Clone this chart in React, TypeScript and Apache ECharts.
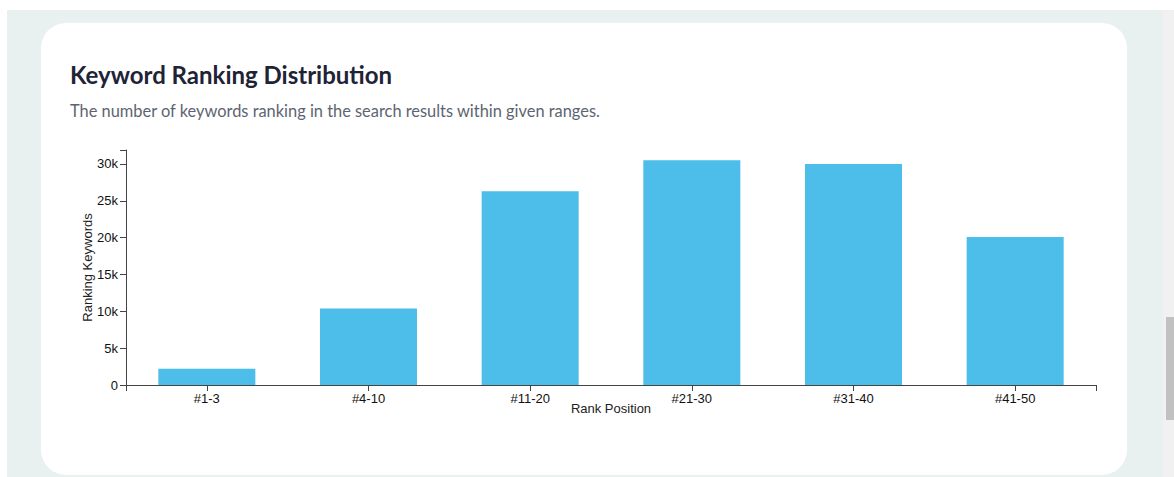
import React, { useEffect, useRef } from "react";
import * as echarts from "echarts";

const categories = ["#1-3", "#4-10", "#11-20", "#21-30", "#31-40", "#41-50"];
const keywordCounts = [2200, 10400, 26300, 30500, 30000, 20100];
const yMax = 31900;
const yInterval = 5000;

const titleText = "Keyword Ranking Distribution";
const subtitleText = "The number of keywords ranking in the search results within given ranges.";
const xAxisName = "Rank Position";
const yAxisName = "Ranking Keywords";

const axisFont = "'Liberation Sans', Arial, sans-serif";

export default function App() {
  const ref = useRef<HTMLDivElement>(null);

  useEffect(() => {
    if (!ref.current) return;
    const chart = echarts.init(ref.current, undefined, { renderer: "svg" });
    chart.setOption({
      animation: false,
      backgroundColor: "#ffffff",
      graphic: [
        {
          type: "rect",
          z: -10,
          silent: true,
          shape: { x: 7, y: 10, width: 1156, height: 470 },
          style: { fill: "#e8f0f0" },
        },
        {
          type: "rect",
          z: -10,
          silent: true,
          shape: { x: 1163, y: 10, width: 11, height: 470 },
          style: { fill: "#f1f1f1" },
        },
        {
          type: "rect",
          z: -9,
          silent: true,
          shape: { x: 1166, y: 317, width: 8, height: 103 },
          style: { fill: "#c1c1c1" },
        },
        {
          type: "rect",
          z: -9,
          silent: true,
          shape: { x: 41, y: 23, width: 1086, height: 452, r: 25 },
          style: { fill: "#ffffff" },
        },
        {
          type: "text",
          left: 70,
          top: 62,
          style: {
            text: titleText,
            font: "bold 24px Lato, sans-serif",
            fill: "#1f2336",
          },
        },
        {
          type: "text",
          left: 70,
          top: 102,
          style: {
            text: subtitleText,
            font: "16.4px Lato, sans-serif",
            fill: "#5d6471",
          },
        },
      ],
      grid: { left: 126, right: 78, top: 150, bottom: 92, containLabel: false },
      xAxis: [
        {
          type: "category",
          data: categories,
          boundaryGap: true,
          name: xAxisName,
          nameLocation: "middle",
          nameGap: 17,
          nameMoveOverlap: false,
          nameTextStyle: { fontFamily: axisFont, fontSize: 13, color: "#222" },
          axisLine: { show: true, lineStyle: { color: "#444", width: 1 } },
          axisTick: { show: true, alignWithLabel: true, length: 6, lineStyle: { color: "#444" } },
          axisLabel: { fontFamily: axisFont, fontSize: 13, color: "#111", margin: 7 },
          splitLine: { show: false },
        },
        {
          type: "value",
          min: 0,
          max: categories.length,
          interval: categories.length,
          position: "bottom",
          axisLine: { show: false },
          axisTick: { show: true, length: 6, lineStyle: { color: "#444" } },
          axisLabel: { show: false },
          splitLine: { show: false },
        },
      ],
      yAxis: {
        type: "value",
        min: 0,
        max: yMax,
        interval: yInterval,
        name: yAxisName,
        nameLocation: "middle",
        nameGap: 32,
        nameMoveOverlap: false,
        nameRotate: 90,
        nameTextStyle: { fontFamily: axisFont, fontSize: 13, color: "#222" },
        axisLine: { show: true, lineStyle: { color: "#444", width: 1 } },
        axisTick: { show: true, length: 6, lineStyle: { color: "#444" } },
        axisLabel: {
          fontFamily: axisFont,
          fontSize: 13,
          color: "#111",
          margin: 8,
          formatter: (v: number) => (v % yInterval !== 0 ? "" : v === 0 ? "0" : v / 1000 + "k"),
        },
        splitLine: { show: false },
      },
      series: [
        {
          type: "bar",
          xAxisIndex: 0,
          data: keywordCounts,
          barCategoryGap: "40%",
          itemStyle: { color: "#4dbde9" },
        },
      ],
    });
    return () => chart.dispose();
  }, []);

  return (
    <div
      ref={ref}
      style={{ position: "fixed", left: 0, top: 0, width: 1174, height: 477 }}
    />
  );
}
